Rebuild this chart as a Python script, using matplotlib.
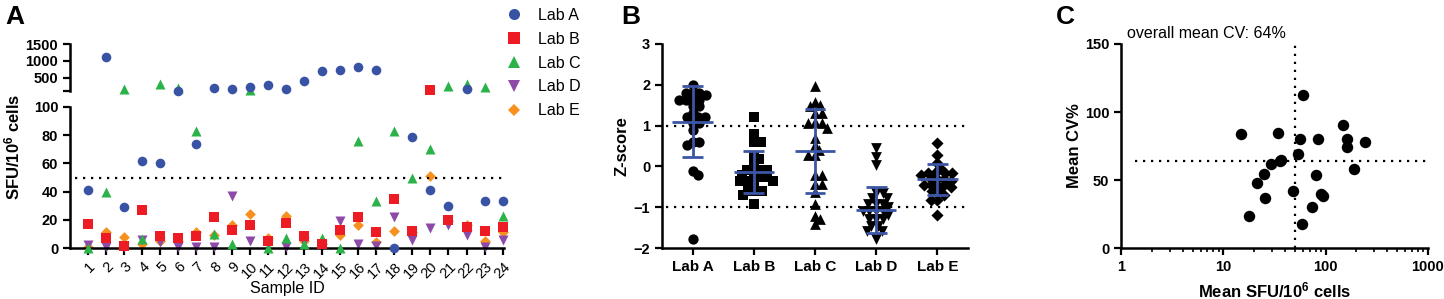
import numpy as np
import matplotlib
matplotlib.use("Agg")
import matplotlib.pyplot as plt
from matplotlib.lines import Line2D
from matplotlib.ticker import LogLocator, NullFormatter

plt.rcParams['font.family'] = ['Liberation Sans', 'DejaVu Sans']
plt.rcParams['mathtext.fontset'] = 'custom'
plt.rcParams['mathtext.rm'] = 'Liberation Sans:bold'
plt.rcParams['mathtext.default'] = 'rm'

# ---- Panel A data: SFU/10^6 cells per sample and lab ----
samples = list(range(1, 25))
lab_a = [41, 1112, 29, 62, 60, 105, 74, 179, 168, 217, 276, 160, 392, 692, 733, 821, 733, 0, 79, 41, 30, 150, 33, 33]
lab_b = [17, 7, 1.5, 27, 8.5, 7, 8.5, 22, 13, 16.5, 5, 18, 8.5, 3, 13, 22, 11.5, 35, 12, 121, 20, 15, 12, 15]
lab_c = [0, 40, 160, 6.5, 305, 200, 83, 10, 3, 139, 0, 7, 3, 7, 0, 76, 33, 83, 50, 70, 255, 296, 208, 23]
lab_d = [2, 1, 1, 6, 4, 1, 1, 1, 37, 5, 2, 1, 4, 2, 19, 3, 1.5, 22, 6, 14, 16.5, 9, 1, 6]
lab_e = [1, 11, 8, 3, 5, 5, 11, 9, 16, 24, 7, 23, 5, 3, 9, 16, 4, 12, 11, 51, 19, 16, 5, 11]
lab_names = ['Lab A', 'Lab B', 'Lab C', 'Lab D', 'Lab E']

# ---- Panel B data: z-scores ----
z_a = [2.0, 1.8, 1.8, 1.8, 1.75, 1.62, 1.62, 1.62, 1.62, 1.47, 1.47, 1.3,
       1.22, 1.22, 1.22, 1.06, 1.06, 0.89, 0.6, 0.6, 0.52, -0.12, -0.2, -1.79]
z_b = [1.2, 0.79, 0.59, 0.59, 0.26, 0.18, 0.1, -0.1, -0.1, -0.1, -0.1, -0.2,
       -0.25, -0.25, -0.25, -0.35, -0.35, -0.35, -0.45, -0.6, -0.6, -0.6, -0.7, -0.91]
z_c = [1.96, 1.59, 1.5, 1.48, 1.3, 1.3, 1.08, 1.06, 1.06, 0.95, 0.69, 0.52,
       0.4, 0.28, 0.28, -0.21, -0.21, -0.42, -0.42, -0.62, -0.91, -1.22, -1.3, -1.4]
z_d = [0.44, 0.24, 0.03, -0.66, -0.66, -0.78, -0.78, -0.91, -0.91, -0.91, -1.0, -1.1,
       -1.1, -1.1, -1.1, -1.2, -1.3, -1.3, -1.3, -1.45, -1.45, -1.58, -1.58, -1.77]
z_e = [0.58, 0.29, 0.09, -0.05, -0.15, -0.15, -0.15, -0.15, -0.2, -0.3, -0.3, -0.3,
       -0.35, -0.45, -0.45, -0.45, -0.45, -0.5, -0.6, -0.6, -0.7, -0.83, -0.83, -1.2]
z_mean = [1.10, -0.13, 0.38, -1.07, -0.32]
z_sd = [0.86, 0.51, 1.02, 0.57, 0.38]

# ---- Panel C data ----
mean_sfu = [14.9, 17.8, 21.2, 25.2, 25.6, 29.1, 34.0, 35.8, 36.6, 48.4, 54.1, 56.2,
            60.6, 58.4, 74.2, 80.6, 84.3, 90.2, 95.0, 149, 161, 160, 191, 243]
mean_cv = [83.8, 23.8, 48.0, 54.7, 37.0, 62.0, 84.8, 64.0, 65.0, 42.2, 69.1, 80.1,
           112.7, 17.9, 30.1, 53.9, 80.1, 40.0, 38.0, 90.7, 80.1, 74.0, 57.8, 77.9]

colors = ['#3953a4', '#ed1c24', '#2bb34a', '#8e4aa8', '#f7901e']
markers = ['o', 's', '^', 'v', 'D']
sizes = [48, 48, 52, 52, 30]
blue = '#3c55a5'

W, H = 1444, 299
fig = plt.figure(figsize=(W / 100, H / 100), dpi=100)


def box(l, t, r, b):
    return [l / W, 1 - b / H, (r - l) / W, (b - t) / H]


def style(ax):
    for s in ['top', 'right']:
        ax.spines[s].set_visible(False)
    for s in ['left', 'bottom']:
        ax.spines[s].set_linewidth(1.8)
    ax.tick_params(direction='out', length=5, width=1.6, color='black')


# ================= Panel A =================
axl = fig.add_axes(box(70, 107, 504, 248))
axu = fig.add_axes(box(70, 44, 504, 91))
style(axl)
style(axu)
axu.spines['bottom'].set_visible(False)
axu.tick_params(axis='x', bottom=False, labelbottom=False)

series = [lab_a, lab_b, lab_c, lab_d, lab_e]
for k in reversed(range(5)):
    vals = np.array(series[k], dtype=float)
    x = np.array(samples)
    lo = vals <= 100
    axl.scatter(x[lo], vals[lo], s=sizes[k], marker=markers[k], color=colors[k],
                linewidths=0, zorder=5 - k, clip_on=False)
    axu.scatter(x[~lo], vals[~lo], s=sizes[k], marker=markers[k], color=colors[k],
                linewidths=0, zorder=5 - k, clip_on=False)

axl.set_xlim(0, 24.08)
axu.set_xlim(0, 24.08)
axl.set_ylim(0, 100)
axu.set_ylim(100, 1500)
axl.set_yticks([0, 20, 40, 60, 80, 100])
axu.set_yticks([100, 500, 1000, 1500])
axu.set_yticklabels(['', '500', '1000', '1500'])
axl.axhline(50, xmin=0.012, xmax=1, color='black', lw=1.6, ls=(0, (1, 2.6)), zorder=1)
axl.set_xticks(samples)
axl.set_xticklabels([str(s) for s in samples], rotation=45, ha='right',
                    rotation_mode='anchor', fontsize=10.5)
for lab in axl.get_yticklabels() + axu.get_yticklabels():
    lab.set_fontweight('bold')
    lab.set_fontsize(10.5)
axl.set_xlabel('Sample ID', fontsize=11.5, labelpad=0)
fig.text(12 / W, 1 - 147 / H, r'SFU/10$^{6}$ cells', rotation=90, ha='center',
         va='center', fontsize=12, fontweight='bold')

handles = [Line2D([], [], ls='none', marker=markers[k], color=colors[k],
                  markersize=8 if k != 4 else 6, markeredgewidth=0) for k in range(5)]
fig.legend(handles, lab_names, loc='upper left', bbox_to_anchor=(506 / W, 1 - 8 / H),
           frameon=False, fontsize=11.5, handlelength=1.0, handletextpad=1.0,
           labelspacing=0.55, borderpad=0, borderaxespad=0)


# ================= Panel B =================
def swarm(values, dx, dy):
    values = np.asarray(values, dtype=float)
    offs = np.zeros(len(values))
    done = []
    for i in np.argsort(-values):
        v = values[i]
        step = dx * 0.22
        for n in range(0, 200):
            c = 0.0 if n == 0 else ((n + 1) // 2) * step * (1 if n % 2 else -1)
            ok = True
            for (px, py) in done:
                if ((px - c) / dx) ** 2 + ((py - v) / dy) ** 2 < 1:
                    ok = False
                    break
            if ok:
                offs[i] = c
                done.append((c, v))
                break
    return offs


axb = fig.add_axes(box(662, 44, 968, 248))
style(axb)
zsets = [z_a, z_b, z_c, z_d, z_e]
bmarkers = ['o', 's', '^', 'v', 'D']
bsizes = [55, 50, 60, 60, 38]
for k, z in enumerate(zsets):
    offs = swarm(z, dx=0.1, dy=0.15)
    axb.scatter(k + offs, z, s=bsizes[k], marker=bmarkers[k], color='black',
                linewidths=0, zorder=3, clip_on=False)
for k in range(5):
    m, s = z_mean[k], z_sd[k]
    axb.plot([k, k], [m - s, m + s], color=blue, lw=2, zorder=4, solid_capstyle='butt')
    axb.hlines(m, k - 0.33, k + 0.33, color=blue, lw=2, zorder=4)
    axb.hlines([m - s, m + s], k - 0.17, k + 0.17, color=blue, lw=2, zorder=4)
axb.axhline(1, xmin=0.012, color='black', lw=1.6, ls=(0, (1, 2.6)), zorder=1)
axb.axhline(-1, xmin=0.012, color='black', lw=1.6, ls=(0, (1, 2.6)), zorder=1)
axb.set_xlim(-0.5, 4.5)
axb.set_ylim(-2, 3)
axb.set_yticks([-2, -1, 0, 1, 2, 3])
axb.set_xticks(range(5))
axb.set_xticklabels(lab_names, fontsize=11, fontweight='bold')
for lab in axb.get_yticklabels():
    lab.set_fontweight('bold')
    lab.set_fontsize(10.5)
axb.set_ylabel('Z-score', fontsize=12, fontweight='bold', labelpad=3)

# ================= Panel C =================
axc = fig.add_axes(box(1121, 44, 1428, 248))
style(axc)
axc.set_xscale('log')
axc.scatter(mean_sfu, mean_cv, s=68, color='black', linewidths=0, zorder=3, clip_on=False)
axc.set_xlim(1, 1000)
axc.set_ylim(0, 150)
axc.set_yticks([0, 50, 100, 150])
axc.set_xticks([1, 10, 100, 1000])
axc.set_xticklabels(['1', '10', '100', '1000'])
axc.xaxis.set_minor_locator(LogLocator(base=10, subs=np.arange(2, 10)))
axc.xaxis.set_minor_formatter(NullFormatter())
axc.tick_params(axis='x', which='minor', direction='out', length=3, width=1.2)
axc.axvline(50, color='black', lw=1.6, ls=(0, (1, 2.6)), zorder=1)
axc.axhline(64, xmin=0.045, color='black', lw=1.6, ls=(0, (1, 2.6)), zorder=1)
for lab in axc.get_yticklabels() + axc.get_xticklabels():
    lab.set_fontweight('bold')
    lab.set_fontsize(10.5)
axc.set_xlabel(r'Mean SFU/10$^{6}$ cells', fontsize=12, fontweight='bold', labelpad=5)
axc.set_ylabel('Mean CV%', fontsize=12, fontweight='bold', labelpad=2)
fig.text(1127 / W, 1 - 33 / H, 'overall mean CV: 64%', ha='left', va='center', fontsize=11.5)

# panel letters
for x, letter in [(5, 'A'), (621, 'B'), (1056, 'C')]:
    fig.text(x / W, 1 - 5 / H, letter, ha='left', va='top', fontsize=19, fontweight='bold')

fig.savefig('out.png', dpi=100)
